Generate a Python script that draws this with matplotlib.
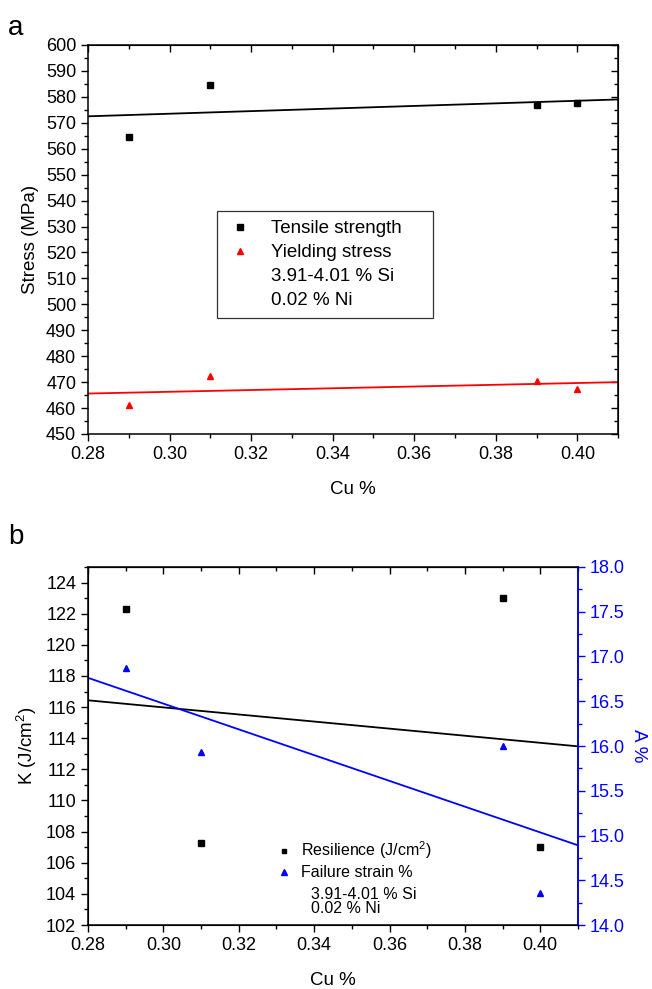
import numpy as np
import matplotlib
matplotlib.use("Agg")
import matplotlib.pyplot as plt
from matplotlib.ticker import MultipleLocator, FormatStrFormatter
from matplotlib.lines import Line2D

plt.rcParams['font.family'] = ['Liberation Sans', 'DejaVu Sans']
plt.rcParams['mathtext.fontset'] = 'custom'
plt.rcParams['mathtext.rm'] = 'Liberation Sans'

cu = [0.29, 0.31, 0.39, 0.40]
tensile = [564.5, 584.5, 577.0, 577.5]
yielding = [461.0, 472.5, 470.5, 467.5]
resilience = [122.3, 107.3, 123.0, 107.0]
failure_strain = [16.87, 15.93, 16.00, 14.36]

x_ticks = [0.28, 0.30, 0.32, 0.34, 0.36, 0.38, 0.40]
composition = "3.91-4.01 % Si\n0.02 % Ni"

TICK_FS = 13
LABEL_FS = 13.5

fig = plt.figure(figsize=(6.52, 9.89), dpi=100)


def fit_line(ax, x, y, color):
    k, b = np.polyfit(x, y, 1)
    xs = np.array([0.28, 0.41])
    ax.plot(xs, k * xs + b, color=color, lw=1.3, zorder=2)


def style_x(ax):
    ax.set_xlim(0.28, 0.41)
    ax.set_xticks(x_ticks)
    ax.set_xticklabels([f"{t:.2f}" for t in x_ticks])
    ax.xaxis.set_minor_locator(MultipleLocator(0.01))
    ax.tick_params(axis='x', which='major', direction='out', length=5, width=1,
                   labelsize=TICK_FS, top=False)
    ax.tick_params(axis='x', which='minor', direction='out', length=3, width=1, top=False)
    ax.set_xlabel("Cu %", fontsize=LABEL_FS, labelpad=13)
    for s in ax.spines.values():
        s.set_linewidth(1.1)


def mirror_top(ax):
    sec = ax.secondary_xaxis('top')
    sec.set_xticks(x_ticks)
    sec.xaxis.set_minor_locator(MultipleLocator(0.01))
    sec.tick_params(which='major', direction='in', length=5, width=1, labeltop=False)
    sec.tick_params(which='minor', direction='in', length=3, width=1)


# ---- panel a: stresses ----
ax1 = fig.add_axes([0.135, 0.5612, 0.813, 0.3933])
ax1.plot(cu, tensile, 's', color='black', ms=4, zorder=3)
ax1.plot(cu, yielding, '^', color='red', ms=4.5, zorder=3)
fit_line(ax1, cu, tensile, 'black')
fit_line(ax1, cu, yielding, 'red')
ax1.set_ylim(450, 600)
ax1.yaxis.set_major_locator(MultipleLocator(10))
ax1.yaxis.set_minor_locator(MultipleLocator(5))
ax1.tick_params(axis='y', which='major', direction='out', length=5, width=1, labelsize=TICK_FS)
ax1.tick_params(axis='y', which='minor', direction='out', length=3, width=1)
ax1.set_ylabel("Stress (MPa)", fontsize=LABEL_FS, labelpad=5)
style_x(ax1)
mirror_top(ax1)
sec_right = ax1.secondary_yaxis('right')
sec_right.yaxis.set_major_locator(MultipleLocator(10))
sec_right.yaxis.set_minor_locator(MultipleLocator(5))
sec_right.tick_params(which='major', direction='in', length=5, width=1, labelright=False)
sec_right.tick_params(which='minor', direction='in', length=3, width=1)

handles = [
    Line2D([], [], ls='none', marker='s', color='black', ms=4),
    Line2D([], [], ls='none', marker='^', color='red', ms=4.5),
    Line2D([], [], ls='none'),
    Line2D([], [], ls='none'),
]
labels = ["Tensile strength", "Yielding stress", "3.91-4.01 % Si", "0.02 % Ni"]
leg = ax1.legend(handles, labels, loc='upper left', mode='expand',
                 bbox_to_anchor=(0.2434, 0.5733, 0.4075, 0.0), borderaxespad=0.0,
                 fontsize=13.5, frameon=True, fancybox=False, edgecolor='black',
                 handlelength=1.4, handletextpad=1.0, borderpad=0.5, labelspacing=0.35)
leg.get_frame().set_linewidth(0.9)

fig.text(0.012, 0.972, "a", fontsize=20, va='center', ha='left')

# ---- panel b: resilience and failure strain ----
ax2 = fig.add_axes([0.135, 0.0647, 0.7515, 0.362])
ax2.plot(cu, resilience, 's', color='black', ms=4, zorder=3)
fit_line(ax2, cu, resilience, 'black')
ax2.set_ylim(102, 125)
ax2.yaxis.set_major_locator(MultipleLocator(2))
ax2.yaxis.set_minor_locator(MultipleLocator(1))
ax2.tick_params(axis='y', which='major', direction='out', length=5, width=1, labelsize=TICK_FS)
ax2.tick_params(axis='y', which='minor', direction='out', length=3, width=1)
ax2.set_ylabel("K (J/cm$^2$)", fontsize=LABEL_FS, labelpad=5)
style_x(ax2)
mirror_top(ax2)

ax3 = ax2.twinx()
ax3.plot(cu, failure_strain, '^', color='blue', ms=4.5, zorder=3)
fit_line(ax3, cu, failure_strain, 'blue')
ax3.set_ylim(14.0, 18.0)
ax3.yaxis.set_major_locator(MultipleLocator(0.5))
ax3.yaxis.set_minor_locator(MultipleLocator(0.25))
ax3.yaxis.set_major_formatter(FormatStrFormatter('%.1f'))
ax3.tick_params(axis='y', which='major', direction='out', length=5, width=1,
                labelsize=TICK_FS, colors='blue')
ax3.tick_params(axis='y', which='minor', direction='out', length=3, width=1, colors='blue')
ax3.spines['right'].set_color('blue')
ax3.spines['right'].set_linewidth(1.1)
ax3.set_ylabel("A %", fontsize=LABEL_FS, color='blue', rotation=-90, labelpad=16)

handles2 = [
    Line2D([], [], ls='none', marker='s', color='black', ms=3.5),
    Line2D([], [], ls='none', marker='^', color='blue', ms=4),
]
labels2 = ["Resilience (J/cm$^2$)", "Failure strain %"]
ax3.legend(handles2, labels2, loc='upper left', bbox_to_anchor=(0.36, 0.27),
           fontsize=11.5, frameon=False, handlelength=1.0, handletextpad=0.6,
           labelspacing=0.25, borderpad=0.2)
ax3.text(0.455, 0.066, composition, transform=ax3.transAxes, fontsize=11.5,
         va='center', ha='left', linespacing=0.95)

fig.text(0.012, 0.457, "b", fontsize=20, va='center', ha='left')

fig.savefig("out.png", dpi=100)
